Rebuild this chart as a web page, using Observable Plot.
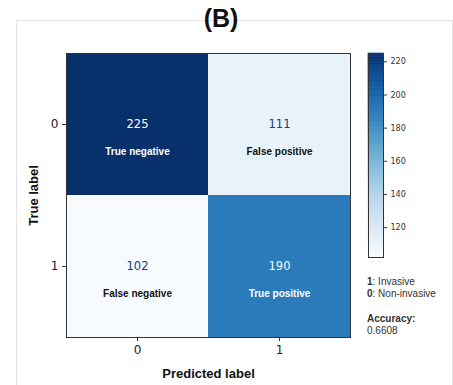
<!DOCTYPE html>
<html>
<head>
<meta charset="utf-8">
<script src="https://cdn.jsdelivr.net/npm/d3@7"></script>
<script src="https://cdn.jsdelivr.net/npm/@observablehq/plot@0.6"></script>
<style>
  html, body { margin: 0; padding: 0; background: #fff; }
  #wrap { position: relative; width: 453px; height: 385px; overflow: hidden; background: #fff; }
  #panel { position: absolute; left: 16px; top: 20px; width: 435px; height: 400px; border: 1px solid #e4e4e4; box-sizing: content-box; }
  #title { position: absolute; left: 0; width: 442px; top: 6px; text-align: center; font: bold 25px/25px "Liberation Sans", Arial, sans-serif; color: #111; }
  .abs { position: absolute; }
  .leg { position: absolute; left: 367px; font: 10px/10px "Liberation Sans", Arial, sans-serif; color: #333; white-space: nowrap; }
  #main [aria-label="x-axis label"] text, #main [aria-label="y-axis label"] text { font: bold 13px "Liberation Sans", Arial, sans-serif; fill: #111; }
</style>
</head>
<body>
<div id="wrap">
  <div id="panel"></div>
  <div id="main" class="abs" style="left:0;top:0"></div>
  <div id="cbar" class="abs" style="left:367px;top:52px"></div>
  <div id="title"></div>
  <div id="legend"></div>
</div>
<script>
// ---- data ----
const classes = ["0", "1"];
const predictedLabels = ["0", "1", "0", "1"];
const trueLabels = ["0", "0", "1", "1"];
const counts = [225, 111, 102, 190];
const cellNames = ["True negative", "False positive", "False negative", "True positive"];
const colorbarTicks = [120, 140, 160, 180, 200, 220];
const colorMin = 102, colorMax = 225;
const titleText = "(B)";
const xLabel = "Predicted label";
const yLabel = "True label";
const legendKeys = ["1", "0"];
const legendNames = ["Invasive", "Non-invasive"];
const accuracyLabel = "Accuracy:";
const accuracyValue = "0.6608";

const cells = counts.map((c, i) => ({pred: predictedLabels[i], actual: trueLabels[i], count: c, name: cellNames[i]}));
const mid = (colorMin + colorMax) / 2;
const isDark = d => d.count > mid;
const isLight = d => d.count <= mid;
const colorOpts = {type: "linear", scheme: "blues", domain: [colorMin, colorMax]};

const chart = Plot.plot({
  width: 453, height: 385,
  marginLeft: 66, marginRight: 103, marginTop: 53, marginBottom: 48,
  style: {background: "transparent", fontFamily: "DejaVu Sans", fontSize: "12px", color: "#222"},
  x: {domain: classes, padding: 0},
  y: {domain: classes, padding: 0},
  color: colorOpts,
  marks: [
    Plot.cell(cells, {x: "pred", y: "actual", fill: "count"}),
    Plot.text(cells, {filter: isDark, x: "pred", y: "actual", text: d => String(d.count), fill: "#f7fbff", fontSize: 11.5, fontFamily: "DejaVu Sans"}),
    Plot.text(cells, {filter: isLight, x: "pred", y: "actual", text: d => String(d.count), fill: "#14407e", fontSize: 11.5, fontFamily: "DejaVu Sans"}),
    Plot.text(cells, {filter: isDark, x: "pred", y: "actual", text: "name", dy: 27, fill: "#ffffff", fontSize: 10, fontWeight: "bold", fontFamily: "Liberation Sans"}),
    Plot.text(cells, {filter: isLight, x: "pred", y: "actual", text: "name", dy: 27, fill: "#111111", fontSize: 10, fontWeight: "bold", fontFamily: "Liberation Sans"}),
    Plot.frame({stroke: "#333", strokeWidth: 1}),
    Plot.axisX({tickSize: 4, tickPadding: 4, label: xLabel, labelAnchor: "center", labelArrow: "none", labelOffset: 40, stroke: "#333", fill: "#222"}),
    Plot.axisY({tickSize: 4, tickPadding: 4, label: yLabel, labelAnchor: "center", labelArrow: "none", labelOffset: 38, stroke: "#333", fill: "#222"})
  ]
});
document.getElementById("main").appendChild(chart);

const steps = d3.range(colorMin, colorMax, 1);
const cbar = Plot.plot({
  width: 60, height: 206,
  marginTop: 1, marginBottom: 1, marginLeft: 1, marginRight: 44,
  style: {background: "transparent", fontFamily: "DejaVu Sans", fontSize: "8px", color: "#333", overflow: "visible"},
  x: {domain: [0, 1], axis: null},
  y: {domain: [colorMin, colorMax]},
  color: colorOpts,
  marks: [
    Plot.rect(steps, {x1: 0, x2: 1, y1: d => d, y2: d => Math.min(d + 1, colorMax), fill: d => d, stroke: d => d, strokeWidth: 0.6}),
    Plot.frame({stroke: "#333", strokeWidth: 1}),
    Plot.axisY({anchor: "right", ticks: colorbarTicks, tickSize: 3, tickPadding: 4, label: null, fontSize: 8, stroke: "#333", fill: "#333"})
  ]
});
document.getElementById("cbar").appendChild(cbar);

document.getElementById("title").textContent = titleText;

const legend = document.getElementById("legend");
const tops = [276.5, 288.5];
legendKeys.forEach((k, i) => {
  const div = document.createElement("div");
  div.className = "leg";
  div.style.top = tops[i] + "px";
  const b = document.createElement("b");
  b.textContent = k;
  div.appendChild(b);
  div.appendChild(document.createTextNode(": " + legendNames[i]));
  legend.appendChild(div);
});
const acc = document.createElement("div");
acc.className = "leg"; acc.style.top = "313.5px"; acc.style.fontWeight = "bold";
acc.textContent = accuracyLabel;
legend.appendChild(acc);
const accV = document.createElement("div");
accV.className = "leg"; accV.style.top = "325.5px";
accV.textContent = accuracyValue;
legend.appendChild(accV);
</script>
</body>
</html>
